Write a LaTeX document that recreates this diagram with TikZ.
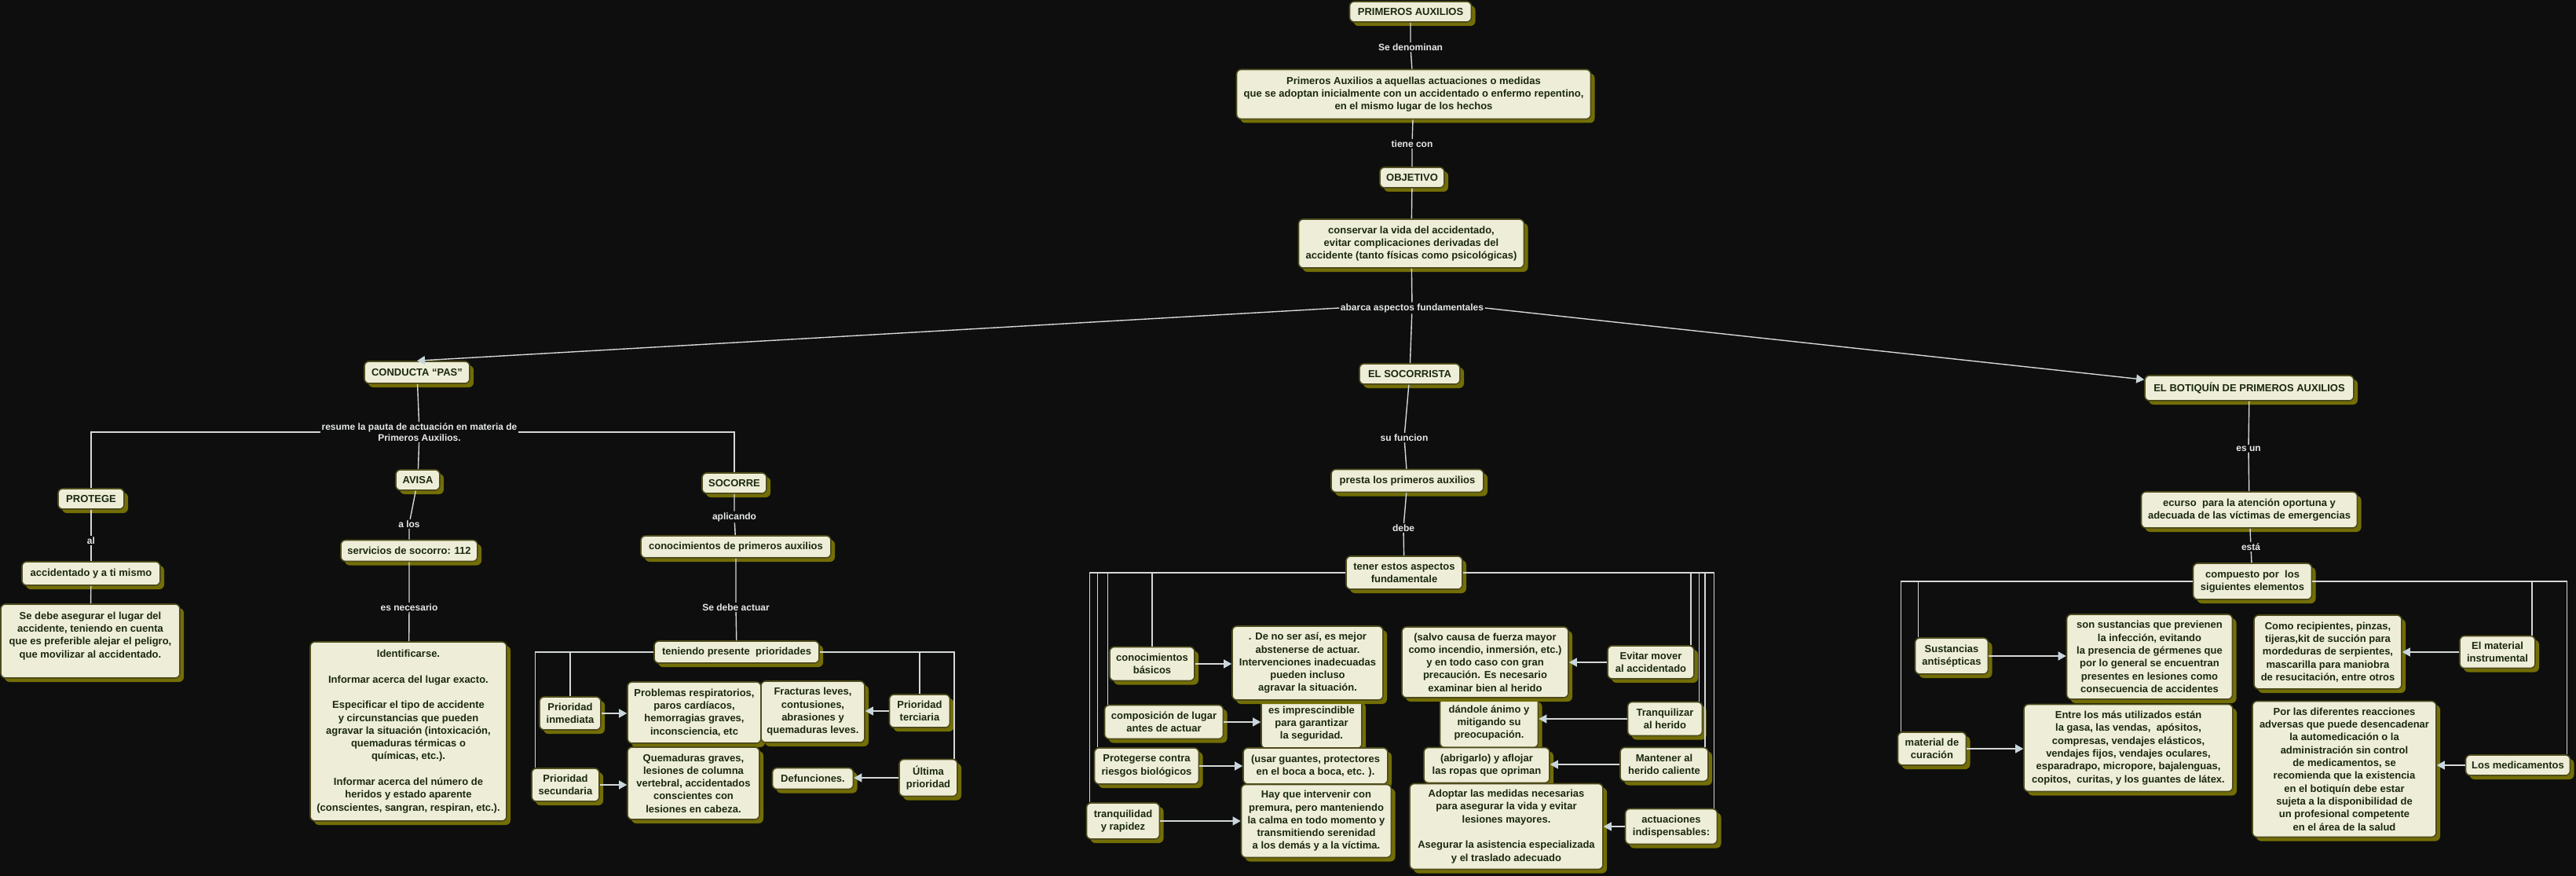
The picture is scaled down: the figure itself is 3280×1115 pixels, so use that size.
\documentclass[tikz,border=0pt]{standalone}
\usepackage{fontspec}
\setmainfont{Liberation Sans}
\usepackage{tikz}
\usetikzlibrary{arrows.meta,shadows,positioning,calc}
\definecolor{colorBG}{HTML}{0D0E0D}
\definecolor{colorFL}{HTML}{EEEED8}
\definecolor{colorBD}{HTML}{4E4C1C}
\definecolor{colorSH}{HTML}{736E06}
\definecolor{colorTX}{HTML}{1B2810}
\definecolor{colorLB}{HTML}{E6E8E8}
\definecolor{colorLN}{HTML}{D4D8D8}
\definecolor{colorTIP}{HTML}{C8D6DC}
\newcommand{\cptfont}{\fontsize{13pt}{16.3pt}\selectfont\bfseries}
\newcommand{\lblfont}{\fontsize{12pt}{13.5pt}\selectfont\bfseries}
\tikzset{
   every path/.style={>={Triangle[length=10pt,width=11pt,color=colorTIP]}},
   lnk/.style={draw=colorLN, line width=1.4pt},
   arw/.style={->, draw=colorLN, line width=1.4pt},
   sz/.style 2 args={minimum width=#1pt, minimum height=#2pt},
}

\begin{document}
\begin{tikzpicture}[x=1pt, y=-1pt,
    cpt/.style={draw=colorBD, line width=1.6pt, fill=colorFL, rounded corners=6pt,
                text=colorTX, font=\cptfont, align=center, inner xsep=3pt, inner ysep=2pt,
                drop shadow={shadow xshift=5pt, shadow yshift=-5pt, fill=colorSH, opacity=1}},
    lbl/.style={text=colorLB, font=\lblfont, align=center, inner sep=1.5pt}
]
\useasboundingbox[fill=colorBG] (0,0) rectangle (3280,1115);

% ------------------------------------------------------------
% Top: definition and objective
% ------------------------------------------------------------
\node[cpt, sz={155}{26}] (prim) at (1796,15) {PRIMEROS AUXILIOS};
\node[lbl] (l1) at (1796,60) {Se denominan};
\node[cpt, sz={451}{63}] (defi) at (1800,120) {Primeros Auxilios a aquellas actuaciones o medidas\\que se adoptan inicialmente con un accidentado o enfermo repentino,\\en el mismo lugar de los hechos};
\node[lbl] (l2) at (1798,183) {tiene con};
\node[cpt, sz={82}{26}] (obj) at (1798,226) {OBJETIVO};
\node[cpt, sz={287}{62}] (cons) at (1797,310) {conservar la vida del accidentado,\\evitar complicaciones derivadas del\\accidente (tanto físicas como psicológicas)};
\node[lbl] (l3) at (1798,392) {abarca aspectos fundamentales};

\draw[lnk] (prim) to (l1) to (defi);
\draw[lnk] (defi) to (l2) to (obj);
\draw[lnk] (obj) to (cons);
\draw[lnk] (cons) to (l3);

% ------------------------------------------------------------
% Conducta PAS
% ------------------------------------------------------------
\node[cpt, sz={134}{28}] (pas) at (531,474) {CONDUCTA “PAS”};
\node[lbl] (l4) at (534,550) {resume la pauta de actuación en materia de\\Primeros Auxilios.};

\node[cpt, sz={84}{26}] (prot) at (116,635) {PROTEGE};
\node[lbl] (l5) at (116,688) {al};
\node[cpt, sz={176}{30}] (acci) at (116,730) {accidentado y a ti mismo};
\node[cpt, sz={228}{94}] (sedb) at (115,816) {Se debe asegurar el lugar del\\accidente, teniendo en cuenta\\que es preferible alejar el peligro,\\que movilizar al accidentado.\\~};

\node[cpt, sz={56}{26}] (avis) at (532,611) {AVISA};
\node[lbl] (l6) at (521,667) {a los};
\node[cpt, sz={174}{27}] (serv) at (521,701) {servicios de socorro: 112};
\node[lbl] (l7) at (521,773) {es necesario};
\node[cpt, sz={250}{228}] (iden) at (520,931) {Identificarse.\\[16.3pt]Informar acerca del lugar exacto.\\[16.3pt]Especificar el tipo de accidente\\y circunstancias que pueden\\agravar la situación (intoxicación,\\quemaduras térmicas o\\químicas, etc.).\\[16.3pt]Informar acerca del número de\\heridos y estado aparente\\(conscientes, sangran, respiran, etc.).};

\node[cpt, sz={82}{26}] (socr) at (935,615) {SOCORRE};
\node[lbl] (l8) at (935,658) {aplicando};
\node[cpt, sz={242}{28}] (cpri) at (937,696) {conocimientos de primeros auxilios};
\node[lbl] (l9) at (937,773) {Se debe actuar};
\node[cpt, sz={210}{28}] (teni) at (938,830) {teniendo presente\ \ prioridades};

\node[cpt, sz={78}{42}] (pinm) at (726,908) {Prioridad\\inmediata};
\node[cpt, sz={170}{78}] (prob) at (884,907) {Problemas respiratorios,\\paros cardíacos,\\hemorragias graves,\\inconsciencia, etc};
\node[cpt, sz={132}{78}] (frac) at (1035,906) {Fracturas leves,\\contusiones,\\abrasiones y\\quemaduras leves.};
\node[cpt, sz={77}{42}] (pter) at (1171,905) {Prioridad\\terciaria};
\node[cpt, sz={86}{42}] (psec) at (720,999) {Prioridad\\secundaria};
\node[cpt, sz={168}{92}] (quem) at (883,997) {Quemaduras graves,\\lesiones de columna\\vertebral, accidentados\\conscientes con\\lesiones en cabeza.};
\node[cpt, sz={103}{27}] (defu) at (1035,991) {Defunciones.};
\node[cpt, sz={74}{47}] (ulti) at (1182,990) {Última\\prioridad};

\draw[arw] (l3.west) to (pas.north);
\draw[lnk] (pas) to (l4) to (avis);
\draw[lnk] (l4.west) -| (prot.north);
\draw[lnk] (l4.east) -| (socr.north);
\draw[lnk] (prot) to (l5) to (acci);
\draw[lnk] (acci) to (sedb);
\draw[lnk] (avis) to (l6) to (serv);
\draw[lnk] (serv) to (l7) to (iden);
\draw[lnk] (socr) to (l8) to (cpri);
\draw[lnk] (cpri) to (l9) to (teni);
\draw[lnk] (teni.west) -| (pinm.north);
\draw[lnk] (teni.west) -| ([xshift=5pt]psec.north west);
\draw[lnk] (teni.east) -| (pter.north);
\draw[lnk] (teni.east) -| ([xshift=-5pt]ulti.north east);
\draw[arw] (pinm.east) to (pinm.east -| prob.west);
\draw[arw] (psec.east) to (psec.east -| quem.west);
\draw[arw] (pter.west) to (pter.west -| frac.east);
\draw[arw] (ulti.west) to (ulti.west -| defu.east);

% ------------------------------------------------------------
% El socorrista
% ------------------------------------------------------------
\node[cpt, sz={128}{26}] (soco) at (1795,476) {EL SOCORRISTA};
\node[lbl] (l10) at (1788,557) {su funcion};
\node[cpt, sz={194}{29}] (pres) at (1792,612) {presta los primeros auxilios};
\node[lbl] (l11) at (1787,672) {debe};
\node[cpt, sz={148}{42}] (tene) at (1788,729) {tener estos aspectos\\fundamentale};

\node[cpt, sz={108}{43}] (cbas) at (1467,845) {conocimientos\\básicos};
\node[cpt, sz={128}{63}] (impr) at (1670,921) {es imprescindible\\para garantizar\\la seguridad.};
\node[cpt, sz={192}{94}] (deno) at (1665,844) {. De no ser así, es mejor\\abstenerse de actuar.\\Intervenciones inadecuadas\\pueden incluso\\agravar la situación.};
\node[cpt, sz={151}{43}] (comp) at (1482,919) {composición de lugar\\antes de actuar};
\node[cpt, sz={133}{46}] (prog) at (1460,975) {Protegerse contra\\riesgos biológicos};
\node[cpt, sz={184}{46}] (guan) at (1675,975) {(usar guantes, protectores\\en el boca a boca, etc. ).};
\node[cpt, sz={93}{46}] (tran) at (1430,1045) {tranquilidad\\y rapidez};
\node[cpt, sz={191}{93}] (hayq) at (1676,1045) {Hay que intervenir con\\premura, pero manteniendo\\la calma en todo momento y\\transmitiendo serenidad\\a los demás y a la víctima.};

\node[cpt, sz={125}{63}] (dand) at (1896,920) {dándole ánimo y\\mitigando su\\preocupación.};
\node[cpt, sz={212}{90}] (salv) at (1891,843) {(salvo causa de fuerza mayor\\como incendio, inmersión, etc.)\\y en todo caso con gran\\precaución. Es necesario\\examinar bien al herido};
\node[cpt, sz={110}{42}] (evit) at (2102,843) {Evitar mover\\al accidentado};
\node[cpt, sz={95}{43}] (tqhe) at (2120,915) {Tranquilizar\\al herido};
\node[cpt, sz={160}{45}] (abri) at (1893,974) {(abrigarlo) y aflojar\\las ropas que opriman};
\node[cpt, sz={112}{43}] (mant) at (2119,973) {Mantener al\\herido caliente};
\node[cpt, sz={246}{109}] (adop) at (1918,1052) {Adoptar las medidas necesarias\\para asegurar la vida y evitar\\lesiones mayores.\\[16.3pt]Asegurar la asistencia especializada\\y el traslado adecuado};
\node[cpt, sz={117}{45}] (actu) at (2128,1052) {actuaciones\\indispensables:};

\draw[lnk] (l3) to (soco);
\draw[lnk] (soco) to (l10) to (pres);
\draw[lnk] (pres) to (l11) to (tene);
\draw[lnk] (tene.west) -| (cbas.north);
\draw[lnk] (tene.west) -| ([xshift=5pt]comp.north west);
\draw[lnk] (tene.west) -| ([xshift=5pt]prog.north west);
\draw[lnk] (tene.west) -| ([xshift=5pt]tran.north west);
\draw[lnk] (tene.east) -| ([xshift=-5pt]evit.north east);
\draw[lnk] (tene.east) -| ([xshift=-5pt]tqhe.north east);
\draw[lnk] (tene.east) -| ([xshift=-5pt]mant.north east);
\draw[lnk] (tene.east) -| ([xshift=-5pt]actu.north east);
\draw[arw] (cbas.east) to (cbas.east -| deno.west);
\draw[arw] (comp.east) to (comp.east -| impr.west);
\draw[arw] (prog.east) to (prog.east -| guan.west);
\draw[arw] (tran.east) to (tran.east -| hayq.west);
\draw[arw] (evit.west) to (evit.west -| salv.east);
\draw[arw] (tqhe.west) to (tqhe.west -| dand.east);
\draw[arw] (mant.west) to (mant.west -| abri.east);
\draw[arw] (actu.west) to (actu.west -| adop.east);

% ------------------------------------------------------------
% El botiquin
% ------------------------------------------------------------
\node[cpt, sz={266}{32}] (boti) at (2864,494) {EL BOTIQUÍN DE PRIMEROS AUXILIOS};
\node[lbl] (l12) at (2863,571) {es un};
\node[cpt, sz={275}{46}] (ecur) at (2864,649) {ecurso\ \ para la atención oportuna y\\adecuada de las víctimas de emergencias};
\node[lbl] (l13) at (2866,696) {está};
\node[cpt, sz={151}{46}] (cpst) at (2868,740) {compuesto por\ \ los\\siguientes elementos};

\node[cpt, sz={93}{46}] (sust) at (2485,835) {Sustancias\\antisépticas};
\node[cpt, sz={211}{108}] (sons) at (2737,836) {son sustancias que previenen\\la infección, evitando\\la presencia de gérmenes que\\por lo general se encuentran\\presentes en lesiones como\\consecuencia de accidentes};
\node[cpt, sz={87}{42}] (mcur) at (2460,953) {material de\\curación};
\node[cpt, sz={266}{111}] (entr) at (2710,952) {Entre los más utilizados están\\la gasa, las vendas,\ \ apósitos,\\compresas, vendajes elásticos,\\vendajes fijos, vendajes oculares,\\esparadrapo, micropore, bajalenguas,\\copitos,\ \ curitas, y los guantes de látex.};
\node[cpt, sz={188}{94}] (comr) at (2964,830) {Como recipientes, pinzas,\\tijeras,kit de succión para\\mordeduras de serpientes,\\mascarilla para maniobra\\de resucitación, entre otros};
\node[cpt, sz={96}{41}] (mins) at (3180,830) {El material\\instrumental};
\node[cpt, sz={234}{173}] (porl) at (2985,979) {Por las diferentes reacciones\\adversas que puede desencadenar\\la automedicación o la\\administración sin control\\de medicamentos, se\\recomienda que la existencia\\en el botiquín debe estar\\sujeta a la disponibilidad de\\un profesional competente\\en el área de la salud};
\node[cpt, sz={133}{26}] (meds) at (3206,974) {Los medicamentos};

\draw[arw] (l3.east) to ([yshift=-6pt]boti.north west);
\draw[lnk] (boti) to (l12) to (ecur);
\draw[lnk] (ecur) to (l13) to (cpst);
\draw[lnk] (cpst.west) -| ([xshift=5pt]sust.north west);
\draw[lnk] (cpst.west) -| ([xshift=5pt]mcur.north west);
\draw[lnk] (cpst.east) -| ([xshift=-5pt]mins.north east);
\draw[lnk] (cpst.east) -| ([xshift=-5pt]meds.north east);
\draw[arw] (sust.east) to (sust.east -| sons.west);
\draw[arw] (mcur.east) to (mcur.east -| entr.west);
\draw[arw] (mins.west) to (mins.west -| comr.east);
\draw[arw] (meds.west) to (meds.west -| porl.east);
\end{tikzpicture}
\end{document}
